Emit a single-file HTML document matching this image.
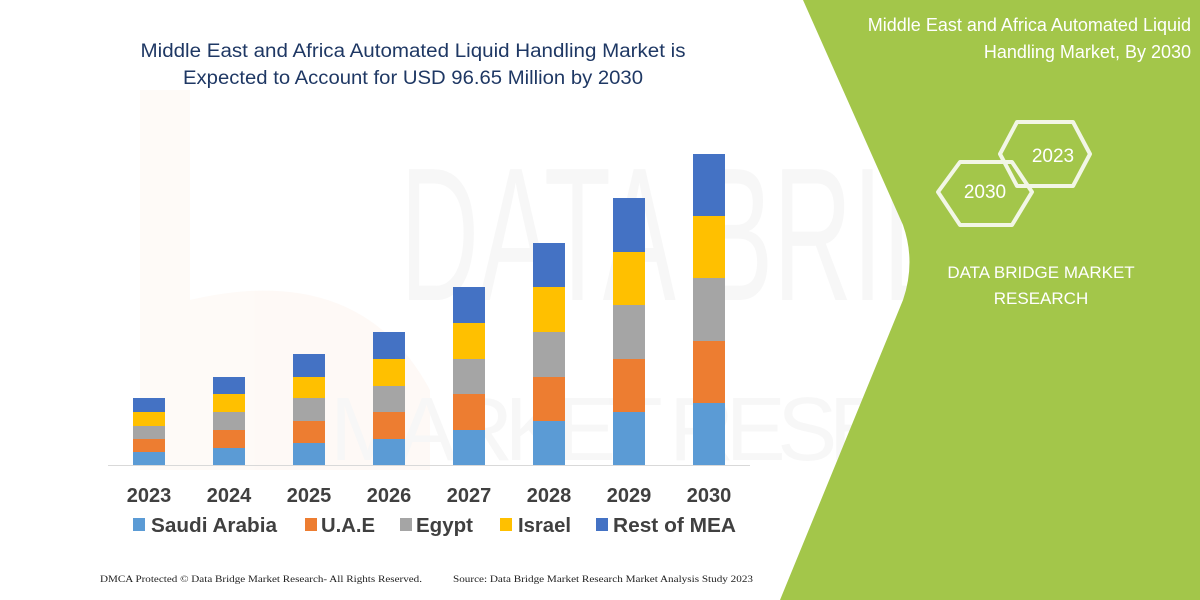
<!DOCTYPE html>
<html><head><meta charset="utf-8"><style>html,body{margin:0;padding:0;background:#fff}svg{display:block}</style></head>
<body>
<svg width="1200" height="600" viewBox="0 0 1200 600" xmlns="http://www.w3.org/2000/svg" font-family="Liberation Sans, DejaVu Sans, sans-serif">
<rect width="1200" height="600" fill="#fff"/>
<!-- faint watermark -->
<g opacity="0.035">
<path d="M140 90 L190 90 L190 300 Q360 260 430 390 L430 470 L140 470 Z" fill="#e86a2a"/>
<text x="400" y="300" font-size="190" fill="#333" textLength="720" lengthAdjust="spacingAndGlyphs">DATA BRIDGE</text>
<text x="330" y="460" font-size="90" fill="#333" textLength="780" lengthAdjust="spacing">MARKET RESEARCH</text>
</g>
<!-- green panel -->
<path d="M803 0 L1200 0 L1200 600 L780 600 L903 300 Q916 262 903 225 Z" fill="#a3c64a"/>
<text font-size="18" fill="#fff" text-anchor="end"><tspan x="1191" y="31">Middle East and Africa Automated Liquid</tspan><tspan x="1191" y="58">Handling Market, By 2030</tspan></text>
<g fill="none" stroke="#f2f6e6" stroke-width="4" stroke-linejoin="round">
<polygon points="1017,123 1073,123 1090,155 1073,187 1017,187 1000,155" transform="translate(0,-1)"/>
<polygon points="960,162 1012,162 1032,192 1012,225 960,225 938,192"/>
</g>
<text x="1053" y="162" font-size="19" fill="#fff" text-anchor="middle">2023</text>
<text x="985" y="198" font-size="19" fill="#fff" text-anchor="middle">2030</text>
<text font-size="17" fill="#fff" text-anchor="middle"><tspan x="1041" y="278">DATA BRIDGE MARKET</tspan><tspan x="1041" y="304">RESEARCH</tspan></text>
<!-- title -->
<text font-size="19" fill="#1f3864" text-anchor="middle"><tspan x="413" y="57" textLength="545" lengthAdjust="spacingAndGlyphs">Middle East and Africa Automated Liquid Handling Market is</tspan><tspan x="413" y="84" textLength="460" lengthAdjust="spacingAndGlyphs">Expected to Account for USD 96.65 Million by 2030</tspan></text>
<!-- bars -->
<g>
<g transform="translate(133,0)">
<rect width="32" y="452" height="13" fill="#5b9bd5"/><rect width="32" y="439" height="13" fill="#ed7d31"/><rect width="32" y="426" height="13" fill="#a5a5a5"/><rect width="32" y="412" height="14" fill="#ffc000"/><rect width="32" y="398" height="14" fill="#4472c4"/></g>
<g transform="translate(213,0)">
<rect width="32" y="448" height="17" fill="#5b9bd5"/><rect width="32" y="430" height="18" fill="#ed7d31"/><rect width="32" y="412" height="18" fill="#a5a5a5"/><rect width="32" y="394" height="18" fill="#ffc000"/><rect width="32" y="377" height="17" fill="#4472c4"/></g>
<g transform="translate(293,0)">
<rect width="32" y="443" height="22" fill="#5b9bd5"/><rect width="32" y="421" height="22" fill="#ed7d31"/><rect width="32" y="398" height="23" fill="#a5a5a5"/><rect width="32" y="377" height="21" fill="#ffc000"/><rect width="32" y="354" height="23" fill="#4472c4"/></g>
<g transform="translate(373,0)">
<rect width="32" y="439" height="26" fill="#5b9bd5"/><rect width="32" y="412" height="27" fill="#ed7d31"/><rect width="32" y="386" height="26" fill="#a5a5a5"/><rect width="32" y="359" height="27" fill="#ffc000"/><rect width="32" y="332" height="27" fill="#4472c4"/></g>
<g transform="translate(453,0)">
<rect width="32" y="430" height="35" fill="#5b9bd5"/><rect width="32" y="394" height="36" fill="#ed7d31"/><rect width="32" y="359" height="35" fill="#a5a5a5"/><rect width="32" y="323" height="36" fill="#ffc000"/><rect width="32" y="287" height="36" fill="#4472c4"/></g>
<g transform="translate(533,0)">
<rect width="32" y="421" height="44" fill="#5b9bd5"/><rect width="32" y="377" height="44" fill="#ed7d31"/><rect width="32" y="332" height="45" fill="#a5a5a5"/><rect width="32" y="287" height="45" fill="#ffc000"/><rect width="32" y="243" height="44" fill="#4472c4"/></g>
<g transform="translate(613,0)">
<rect width="32" y="412" height="53" fill="#5b9bd5"/><rect width="32" y="359" height="53" fill="#ed7d31"/><rect width="32" y="305" height="54" fill="#a5a5a5"/><rect width="32" y="252" height="53" fill="#ffc000"/><rect width="32" y="198" height="54" fill="#4472c4"/></g>
<g transform="translate(693,0)">
<rect width="32" y="403" height="62" fill="#5b9bd5"/><rect width="32" y="341" height="62" fill="#ed7d31"/><rect width="32" y="278" height="63" fill="#a5a5a5"/><rect width="32" y="216" height="62" fill="#ffc000"/><rect width="32" y="154" height="62" fill="#4472c4"/></g>
</g>
<line x1="108" y1="465.5" x2="750" y2="465.5" stroke="#d9d9d9" stroke-width="1"/>
<g font-size="20" font-weight="bold" fill="#404040" text-anchor="middle">
<text x="149" y="502">2023</text><text x="229" y="502">2024</text><text x="309" y="502">2025</text><text x="389" y="502">2026</text><text x="469" y="502">2027</text><text x="549" y="502">2028</text><text x="629" y="502">2029</text><text x="709" y="502">2030</text>
</g>
<g font-size="20" font-weight="bold" fill="#404040">
<rect x="133" y="518" width="12" height="13" fill="#5b9bd5"/><text x="151" y="532" textLength="126" lengthAdjust="spacingAndGlyphs">Saudi Arabia</text>
<rect x="305" y="518" width="12" height="13" fill="#ed7d31"/><text x="321" y="532" textLength="54" lengthAdjust="spacingAndGlyphs">U.A.E</text>
<rect x="400" y="518" width="12" height="13" fill="#a5a5a5"/><text x="416" y="532" textLength="57" lengthAdjust="spacingAndGlyphs">Egypt</text>
<rect x="500" y="518" width="12" height="13" fill="#ffc000"/><text x="518" y="532" textLength="53" lengthAdjust="spacingAndGlyphs">Israel</text>
<rect x="596" y="518" width="12" height="13" fill="#4472c4"/><text x="613" y="532" textLength="123" lengthAdjust="spacingAndGlyphs">Rest of MEA</text>
</g>
<g font-family="Liberation Serif, serif" font-size="9" fill="#222">
<text x="100" y="582" textLength="322" lengthAdjust="spacingAndGlyphs">DMCA Protected © Data Bridge Market Research-  All Rights Reserved.</text>
<text x="453" y="582" textLength="300" lengthAdjust="spacingAndGlyphs">Source: Data Bridge Market Research  Market Analysis Study 2023</text>
</g>
</svg>
</body></html>
